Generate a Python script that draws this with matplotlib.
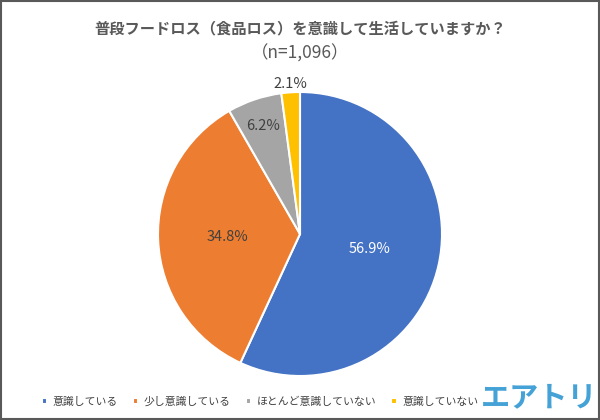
import numpy as np
import matplotlib.pyplot as plt
from matplotlib.patches import Rectangle

plt.rcParams['font.family'] = ['Noto Sans CJK JP', 'DejaVu Sans']

title = "普段フードロス（食品ロス）を意識して生活していますか？"
subtitle = "（n=1,096）"
categories = ["意識している", "少し意識している", "ほとんど意識していない", "意識していない"]
values = [56.9, 34.8, 6.2, 2.1]
colors = ["#4472C4", "#ED7D31", "#A5A5A5", "#FFC000"]
label_dist = [0.50, 0.51, 0.80, 1.06]
label_colors = ["white", "#404040", "#404040", "#404040"]

fig = plt.figure(figsize=(6, 4.2), dpi=100)
fig.patch.set_facecolor("white")

ax = fig.add_axes([158 / 600, 44 / 420, 284 / 600, 284 / 420])
wedges, _ = ax.pie(values, colors=colors, startangle=90, counterclock=False,
                   radius=1, wedgeprops=dict(edgecolor="white", linewidth=1.5))
ax.set_xlim(-1, 1)
ax.set_ylim(-1, 1)
ax.set_aspect("equal")
ax.axis("off")

for w, v, d, c in zip(wedges, values, label_dist, label_colors):
    mid = np.deg2rad((w.theta1 + w.theta2) / 2)
    ax.text(d * np.cos(mid), d * np.sin(mid), f"{v}%", ha="center", va="center",
            fontsize=10.5, color=c, clip_on=False)

fig.text(0.5, 1 - 28 / 420, title, ha="center", va="center", fontsize=11,
         fontweight="bold", color="#595959")
fig.text(0.5, 1 - 54 / 420, subtitle, ha="center", va="center", fontsize=12.5,
         color="#595959")

leg = fig.legend(wedges, categories, loc="center", bbox_to_anchor=(260 / 600, 1 - 402 / 420),
                 ncol=4, frameon=False, fontsize=7.8, handlelength=0.5, handleheight=0.5,
                 handletextpad=0.5, columnspacing=1.4)
for t in leg.get_texts():
    t.set_color("#404040")

fig.text(597 / 600, 1 - 397 / 420, "エアトリ", ha="right", va="center", fontsize=21,
         fontweight="bold", color="#45A2D6")

fig.patches.append(Rectangle((0.002, 0.003), 0.996, 0.994, transform=fig.transFigure,
                             fill=False, edgecolor="#595959", linewidth=1.5))

fig.savefig("out.png", dpi=100)
